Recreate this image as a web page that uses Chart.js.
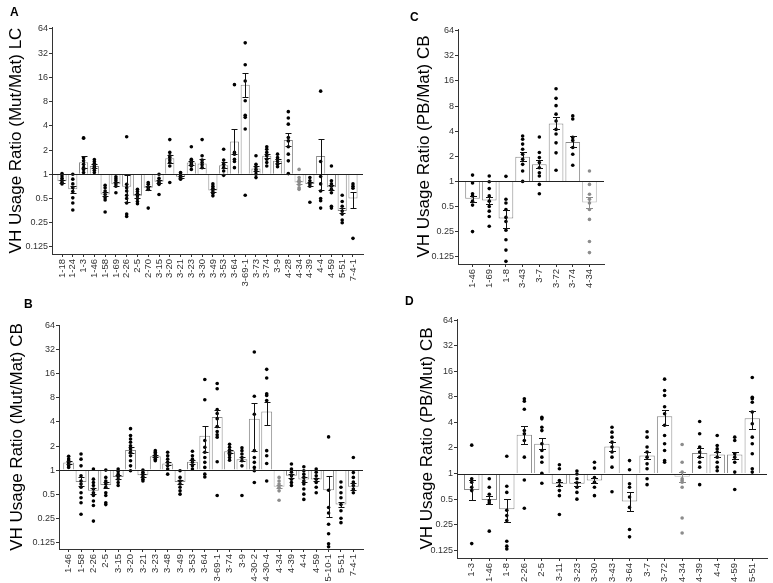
<!DOCTYPE html>
<html>
<head>
<meta charset="utf-8">
<script src="https://cdn.jsdelivr.net/npm/chart.js@4.4.1/dist/chart.umd.min.js"></script>
<style>
  body { margin: 0; background: #fff; }
  #wrap { position: relative; width: 773px; height: 583px; overflow: hidden; }
  canvas { position: absolute; }
  .lbl { position: absolute; font: bold 12px "Liberation Sans", Arial, sans-serif; line-height: 12px; color: #000; }
</style>
</head>
<body>
<div id="wrap">
  <canvas id="chartA"></canvas>
  <canvas id="chartB"></canvas>
  <canvas id="chartC"></canvas>
  <canvas id="chartD"></canvas>
  <div class="lbl" style="left:10px;top:6px">A</div>
  <div class="lbl" style="left:24px;top:298px">B</div>
  <div class="lbl" style="left:410px;top:11px">C</div>
  <div class="lbl" style="left:405px;top:295px">D</div>
</div>
<script>
// Escala log2 compartida por los cuatro paneles
const yTicks = [0.125, 0.25, 0.5, 1, 2, 4, 8, 16, 32, 64];

// Panel A - LC (Mut/Mat)
const aLabels = ['1-18','1-24','1-3','1-46','1-58','1-69','2-26','2-5','2-70','3-15','3-20','3-21','3-23','3-30','3-49','3-53','3-64','3-69-1','3-73','3-74','3-9','4-28','4-34','4-39','4-4','4-59','5-51','7-4-1'];
const aMeans = [0.82,0.65,1.41,1.27,0.56,0.75,0.70,0.54,0.68,0.81,1.58,0.93,1.40,1.36,0.63,1.30,2.56,13.0,1.18,1.70,1.47,2.66,0.79,0.76,1.69,0.69,0.35,0.50];
const aErrLo = [0.79,0.59,1.21,1.20,0.53,0.71,0.45,0.51,0.64,0.77,1.40,0.90,1.32,1.21,0.60,1.20,1.78,9.1,1.10,1.60,1.40,2.25,0.76,0.72,0.64,0.64,0.33,0.38];
const aErrHi = [0.85,0.72,1.68,1.35,0.60,0.80,0.98,0.57,0.72,0.85,1.75,0.96,1.48,1.54,0.66,1.42,3.70,17.9,1.27,1.80,1.55,3.25,0.83,0.80,2.74,0.74,0.38,0.61];
const aPoints = [
  [1.02,0.95,0.89,0.84,0.79,0.76],
  [1.0,0.87,0.76,0.68,0.61,0.51,0.44,0.36],
  [2.8,2.85,1.6,1.47,1.33,1.21,1.15,1.05],
  [1.53,1.44,1.36,1.27,1.21,1.12,1.05],
  [0.73,0.68,0.62,0.56,0.51,0.48,0.34],
  [0.93,0.88,0.83,0.76,0.71,0.59],
  [2.93,0.75,0.68,0.62,0.55,0.5,0.44,0.32,0.3],
  [0.65,0.61,0.57,0.54,0.5,0.46,0.43],
  [0.79,0.75,0.69,0.65,0.38],
  [1.0,0.89,0.83,0.79,0.75,0.56],
  [2.7,1.87,1.7,1.62,1.5,1.4,1.27,0.79],
  [1.05,1.0,0.95,0.91,0.87],
  [2.2,1.54,1.47,1.4,1.33,1.27,1.15],
  [2.7,1.7,1.5,1.4,1.31,1.21],
  [0.76,0.71,0.67,0.62,0.58,0.54],
  [2.05,1.5,1.33,1.21,1.1,0.97],
  [13,1.87,1.78,1.54,1.44,1.21],
  [43,23,14.4,8.2,5.4,5.1,3.65,0.55],
  [1.7,1.33,1.24,1.15,1.08,1.0,0.91],
  [2.2,2.05,1.87,1.7,1.54,1.4,1.27],
  [1.78,1.62,1.54,1.44,1.33,1.24],
  [6.0,5.0,4.2,2.87,2.6,2.2,1.78,1.47,1.02],
  [1.15,0.91,0.84,0.79,0.74,0.68,0.65],
  [0.91,0.83,0.76,0.71,0.45],
  [10.8,1.44,0.94,0.76,0.62,0.5,0.47,0.38],
  [1.27,0.83,0.76,0.71,0.65,0.59,0.4,0.38],
  [0.55,0.46,0.4,0.35,0.32,0.27,0.25],
  [0.76,0.71,0.67,0.16]
];

// Panel B - CB (Mut/Mat)
const bLabels = ['1-46','1-58','2-26','2-5','3-15','3-20','3-21','3-23','3-48','3-49','3-53','3-64','3-69-1','3-74','3-9','4-30-2','4-30-4','4-34','4-39','4-4','4-59','5-10-1','5-51','7-4-1'];
const bMeans = [1.24,0.71,0.55,0.65,0.82,1.78,0.86,1.49,1.21,0.71,1.27,2.68,4.6,1.72,1.37,4.4,5.4,0.62,0.85,0.76,0.76,0.56,0.37,0.62];
const bErrLo = [1.18,0.64,0.50,0.60,0.78,1.62,0.83,1.45,1.15,0.67,1.20,1.70,3.5,1.65,1.30,1.75,3.7,0.60,0.80,0.70,0.72,0.26,0.35,0.57];
const bErrHi = [1.30,0.82,0.60,0.70,0.86,1.95,0.89,1.53,1.28,0.75,1.34,3.6,5.7,1.80,1.45,6.9,7.1,0.65,0.90,0.82,0.80,0.85,0.40,0.68];
const bPoints = [
  [1.49,1.38,1.31,1.25,1.19,1.13,1.08],
  [1.59,1.37,1.13,0.85,0.73,0.67,0.61,0.52,0.45,0.39,0.28],
  [1.03,0.77,0.7,0.64,0.58,0.52,0.48,0.41,0.36,0.23],
  [1.0,0.81,0.73,0.67,0.61,0.52,0.48,0.39,0.37],
  [1.03,0.96,0.89,0.83,0.77,0.7,0.64],
  [3.3,2.7,2.45,2.23,2.02,1.84,1.67,1.51,1.31,1.13,0.98],
  [1.0,0.94,0.89,0.83,0.77,0.73],
  [1.75,1.67,1.59,1.51,1.44,1.37,1.31],
  [1.67,1.51,1.37,1.25,1.13,1.03,0.89],
  [0.98,0.81,0.73,0.67,0.61,0.55,0.5],
  [1.72,1.51,1.37,1.25,1.13,1.03],
  [13.6,7.6,2.34,1.93,1.67,1.44,1.25,1.08,0.89,0.82],
  [12.1,10.4,5.7,5.1,4.4,3.5,3.03,2.76,2.58,1.27,0.48],
  [2.1,1.93,1.78,1.67,1.56,1.44,1.33],
  [1.9,1.75,1.59,1.44,1.31,1.13,0.48],
  [30,8.4,5.0,1.75,1.44,1.25,1.08,0.98,0.7],
  [18.2,14.2,9.0,8.6,7.4,1.75,1.51,1.21,0.73],
  [0.81,0.73,0.67,0.61,0.55,0.42],
  [1.19,1.03,0.94,0.85,0.77,0.7,0.64],
  [1.1,0.98,0.89,0.81,0.73,0.67,0.58,0.5,0.43],
  [1.03,0.94,0.85,0.77,0.7,0.61,0.52],
  [2.6,0.56,0.34,0.29,0.21,0.16,0.12,0.11],
  [0.71,0.61,0.52,0.45,0.37,0.31,0.25,0.22],
  [1.44,0.93,0.81,0.71,0.64,0.58,0.52]
];

// Panel C - CB (PB/Mat)
const cLabels = ['1-46','1-69','1-8','3-43','3-7','3-72','3-74','4-34'];
const cMeans = [0.62,0.59,0.36,1.97,1.6,4.96,2.96,0.56];
const cErrLo = [0.57,0.53,0.28,1.75,1.43,4.2,2.55,0.48];
const cErrHi = [0.67,0.65,0.45,2.25,1.8,5.9,3.5,0.65];
const cPoints = [
  [1.19,0.96,0.71,0.67,0.58,0.52,0.25],
  [1.16,0.99,0.82,0.67,0.58,0.5,0.44,0.38,0.29],
  [1.15,0.61,0.55,0.46,0.37,0.33,0.26,0.2,0.15,0.11],
  [3.5,3.2,2.8,2.43,2.12,1.84,1.6,1.33,1.0],
  [3.4,2.22,1.93,1.68,1.46,1.27,1.16,0.92,0.71],
  [12.9,9.9,8.1,6.4,5.3,4.2,3.7,2.9,2.2,1.36],
  [6.1,5.6,3.37,3.1,2.55,2.12,1.56],
  [1.33,0.92,0.7,0.61,0.55,0.46,0.35,0.19,0.14]
];

// Panel D - CB (PB/Mut)
const dLabels = ['1-3','1-46','1-8','2-26','2-5','3-11','3-23','3-30','3-43','3-64','3-7','3-72','4-34','4-39','4-4','4-59','5-51'];
const dMeans = [0.64,0.49,0.38,2.86,2.24,0.76,0.76,0.83,2.08,0.47,1.63,4.71,0.92,1.75,1.68,1.68,4.47];
const dErrLo = [0.49,0.44,0.27,2.2,1.95,0.72,0.72,0.78,1.85,0.36,1.48,3.7,0.8,1.55,1.55,1.5,3.37];
const dErrHi = [0.83,0.55,0.5,3.6,2.6,0.8,0.8,0.88,2.35,0.6,1.8,5.66,1.05,2.0,1.8,1.8,5.5];
const dPoints = [
  [2.16,0.87,0.79,0.69,0.63,0.15],
  [0.87,0.69,0.57,0.48,0.45,0.21],
  [1.6,0.71,0.6,0.37,0.32,0.28,0.16,0.14,0.13],
  [7.6,7.1,5.7,3.2,2.94,2.45,1.56,0.84,0.39],
  [4.6,4.4,3.5,3.2,2.24,1.87,1.56,1.36,1.01,0.77],
  [1.27,1.14,0.83,0.72,0.63,0.55,0.33],
  [1.07,0.99,0.87,0.78,0.69,0.6,0.5],
  [1.36,1.16,0.9,0.79,0.69,0.55],
  [3.5,3.07,2.68,2.34,2.05,1.79,1.56,1.19,0.61],
  [1.42,1.11,0.76,0.69,0.53,0.4,0.22,0.18],
  [3.1,2.68,2.05,1.79,1.56,1.3,1.14,0.87,0.74],
  [12.9,9.5,8.3,6.1,5.05,3.7,2.8,2.24,1.87,1.42,1.36],
  [2.2,1.36,1.04,0.87,0.83,0.79,0.69,0.3,0.2],
  [4.1,2.94,2.05,1.79,1.56,1.36,1.19,0.74],
  [2.8,2.14,1.95,1.79,1.56,1.36,1.19,1.08],
  [2.68,2.45,1.71,1.56,1.36,1.04,0.65],
  [13.5,7.9,7.6,6.9,5.3,3.86,2.68,2.24,1.71,1.14,1.04]
];

Chart.defaults.font.family = '"Liberation Sans", Arial, sans-serif';

function drawPanel(canvasId, g, labels, means, errLo, errHi, points) {
    const cv = document.getElementById(canvasId);
    cv.width = g.w;
    cv.height = g.h;
    cv.style.left = g.x + 'px';
    cv.style.top = g.y + 'px';

    // el gen 4-34 va en gris en todos los paneles
    const isGray = labels.map(l => l === '4-34');
    const barData = means.map((m, i) => ({ x: i, y: Math.log2(m) }));
    const dots = [];
    points.forEach((arr, i) => arr.forEach(v => dots.push({ x: i, y: Math.log2(v), g: isGray[i] })));

    // linea en 1 y barras de error
    const guides = {
        id: 'guides',
        afterDatasetsDraw(chart) {
            const { ctx, chartArea, scales: { x, y } } = chart;
            ctx.save();
            ctx.lineWidth = 1;
            const y0 = Math.round(y.getPixelForValue(0)) + 0.5;
            ctx.strokeStyle = '#222';
            ctx.beginPath();
            ctx.moveTo(chartArea.left, y0);
            ctx.lineTo(chartArea.right, y0);
            ctx.stroke();
            labels.forEach((l, i) => {
                const px = Math.round(x.getPixelForValue(i)) + 0.5;
                const lo = Math.round(y.getPixelForValue(Math.log2(errLo[i]))) + 0.5;
                const hi = Math.round(y.getPixelForValue(Math.log2(errHi[i]))) + 0.5;
                ctx.strokeStyle = isGray[i] ? '#8a8a8a' : '#111';
                ctx.beginPath();
                ctx.moveTo(px, lo); ctx.lineTo(px, hi);
                ctx.moveTo(px - g.cap, lo); ctx.lineTo(px + g.cap, lo);
                ctx.moveTo(px - g.cap, hi); ctx.lineTo(px + g.cap, hi);
                ctx.stroke();
            });
            ctx.restore();
        }
    };

    const axisGrid = { display: true, drawOnChartArea: false, offset: false, tickLength: 3, color: '#333' };
    const axisBorder = { display: true, color: '#333', width: 1 };

    new Chart(cv, {
        type: 'bar',
        data: {
            datasets: [
                {
                    type: 'scatter',
                    data: dots,
                    order: 0,
                    pointRadius: 1.8,
                    pointHoverRadius: 1.8,
                    borderWidth: 0,
                    pointBackgroundColor: c => (c.raw && c.raw.g) ? '#8c8c8c' : '#000'
                },
                {
                    type: 'bar',
                    data: barData,
                    order: 1,
                    backgroundColor: '#fff',
                    borderColor: isGray.map(gr => gr ? '#b8b8b8' : '#8a8a8a'),
                    borderWidth: 1,
                    barPercentage: g.bar,
                    categoryPercentage: 1
                }
            ]
        },
        options: {
            responsive: false,
            animation: false,
            events: [],
            layout: { padding: { left: 0, top: g.top - g.y, right: g.x + g.w - g.right, bottom: 0 } },
            plugins: { legend: { display: false }, tooltip: { enabled: false } },
            scales: {
                x: {
                    type: 'linear',
                    offset: false,
                    min: -g.pad,
                    max: labels.length - 1 + g.pad,
                    afterBuildTicks: s => { s.ticks = labels.map((l, i) => ({ value: i })); },
                    afterFit: s => { s.height = g.y + g.h - g.bottom; },
                    ticks: {
                        callback: (v, i) => labels[i],
                        autoSkip: false,
                        minRotation: 90,
                        maxRotation: 90,
                        padding: 2,
                        color: '#333',
                        font: { size: 9.5 }
                    },
                    grid: axisGrid,
                    border: axisBorder
                },
                y: {
                    type: 'linear',
                    min: g.yMin,
                    max: g.yMax,
                    afterBuildTicks: s => { s.ticks = yTicks.map(v => ({ value: Math.log2(v) })); },
                    afterFit: s => { s.width = g.axisX - g.x; },
                    ticks: {
                        callback: (v, i) => String(yTicks[i]),
                        padding: 1,
                        color: '#333',
                        font: { size: 9 }
                    },
                    grid: axisGrid,
                    border: axisBorder,
                    title: {
                        display: true,
                        text: g.title,
                        color: '#000',
                        font: { size: 17 },
                        padding: { top: g.titleX - g.x - 10.2, bottom: 0 }
                    }
                }
            }
        },
        plugins: [guides]
    });
}

document.addEventListener('DOMContentLoaded', function() {
    drawPanel('chartA', { x: 0, y: 0, w: 380, h: 290, axisX: 52, right: 363, top: 27, bottom: 254,
        yMin: -3.29, yMax: 6.08, titleX: 16, pad: 0.93, bar: 0.85, cap: 3,
        title: 'VH Usage Ratio (Mut/Mat) LC' }, aLabels, aMeans, aErrLo, aErrHi, aPoints);
    drawPanel('chartB', { x: 0, y: 290, w: 380, h: 293, axisX: 59, right: 363, top: 325, bottom: 549,
        yMin: -3.28, yMax: 6.03, titleX: 17, pad: 0.78, bar: 0.88, cap: 3,
        title: 'VH Usage Ratio (Mut/Mat) CB' }, bLabels, bMeans, bErrLo, bErrHi, bPoints);
    drawPanel('chartC', { x: 380, y: 0, w: 393, h: 290, axisX: 458, right: 604, top: 29, bottom: 264,
        yMin: -3.29, yMax: 6.07, titleX: 424, pad: 0.87, bar: 0.88, cap: 3.5,
        title: 'VH Usage Ratio (PB/Mat) CB' }, cLabels, cMeans, cErrLo, cErrHi, cPoints);
    drawPanel('chartD', { x: 380, y: 290, w: 393, h: 293, axisX: 457, right: 767, top: 319, bottom: 558,
        yMin: -3.3, yMax: 6.04, titleX: 427, pad: 0.84, bar: 0.88, cap: 3.5,
        title: 'VH Usage Ratio (PB/Mut) CB' }, dLabels, dMeans, dErrLo, dErrHi, dPoints);
});
</script>
</body>
</html>
